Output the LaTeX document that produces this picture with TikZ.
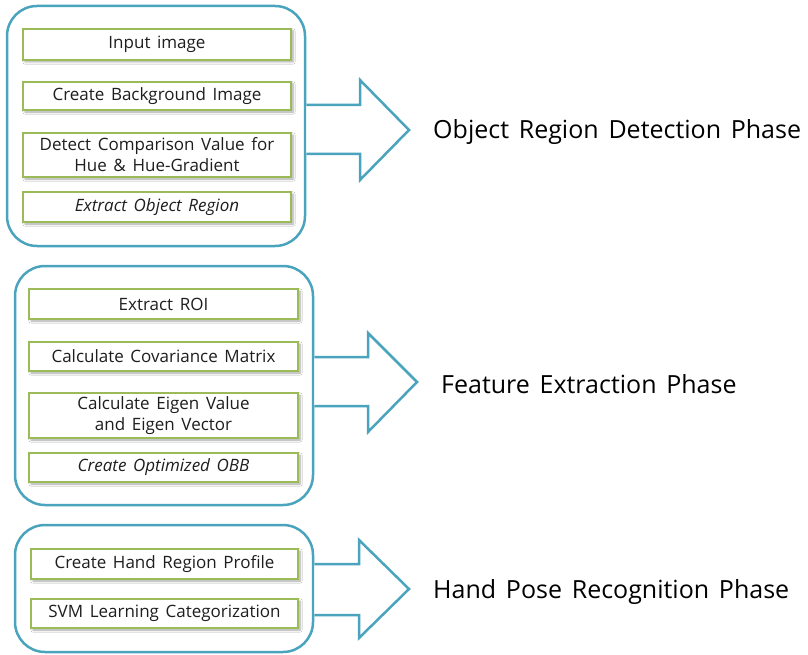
\documentclass[tikz,border=0pt]{standalone}
\usepackage{fontspec}
\setmainfont{Open Sans}[WordSpace=1.5]
\usetikzlibrary{shadows.blur}
\definecolor{frameblue}{RGB}{75,164,189}
\definecolor{stepgreen}{RGB}{155,187,89}
\definecolor{inktext}{RGB}{30,30,30}
\tikzset{
  phasebox/.style={draw=frameblue, line width=2.5pt, rounded corners=30pt, fill=white},
  stepbox/.style={draw=stepgreen, line width=2.8pt, fill=white, text=inktext,
    font=\fontsize{17}{21}\selectfont, align=center, inner sep=0pt,
    blur shadow={shadow xshift=2pt, shadow yshift=-2pt, shadow blur steps=6, shadow opacity=35}},
  phaselabel/.style={anchor=west, text=black, font=\fontsize{25}{29}\selectfont, inner sep=0pt},
  fatarrow/.style={draw=frameblue, line width=2.5pt, line join=miter, fill=white}
}
\begin{document}
\begin{tikzpicture}[x=1pt, y=-1pt]
\useasboundingbox (0,0) rectangle (808,655);

% ---- Phase 1: object region detection ----
\node[phasebox, minimum width=298pt, minimum height=240pt] (p1) at (156,126) {};
\node[stepbox, minimum width=268pt, minimum height=31pt] (s11) at (157,44.5) {Input image};
\node[stepbox, minimum width=268pt, minimum height=28pt] (s12) at (157,96) {Create Background Image};
\node[stepbox, minimum width=268pt, minimum height=44pt] (s13) at (157,155) {Detect Comparison Value for\\Hue \& Hue-Gradient};
\node[stepbox, minimum width=268pt, minimum height=30pt] (s14) at (157,207) {\itshape Extract Object Region};
\draw[fatarrow] (p1.east |- 0,105) -- (360,105) -- (360,80) -- (409,130) coordinate (t1)
  -- (360,180) -- (360,154) -- (p1.east |- 0,154);
\node[phaselabel] (l1) at (433,132) {Object Region Detection Phase};

% ---- Phase 2: feature extraction ----
\node[phasebox, minimum width=298pt, minimum height=239pt] (p2) at (164,385.5) {};
\node[stepbox, minimum width=269pt, minimum height=30pt] (s21) at (163.5,304) {Extract ROI};
\node[stepbox, minimum width=269pt, minimum height=29pt] (s22) at (163.5,356.5) {Calculate Covariance Matrix};
\node[stepbox, minimum width=269pt, minimum height=45pt] (s23) at (163.5,415.5) {Calculate Eigen Value\\and Eigen Vector};
\node[stepbox, minimum width=269pt, minimum height=29pt] (s24) at (163.5,467.5) {\itshape Create Optimized OBB};
\draw[fatarrow] (p2.east |- 0,357) -- (368,357) -- (368,333) -- (417,382) coordinate (t2)
  -- (368,432) -- (368,406) -- (p2.east |- 0,406);
\node[phaselabel] (l2) at (441,384) {Feature Extraction Phase};

% ---- Phase 3: hand pose recognition ----
\node[phasebox, minimum width=298pt, minimum height=127pt] (p3) at (164,588.5) {};
\node[stepbox, minimum width=267pt, minimum height=30pt] (s31) at (164.5,564) {Create Hand Region Profile};
\node[stepbox, minimum width=267pt, minimum height=29pt] (s32) at (164.5,613.5) {SVM Learning Categorization};
\draw[fatarrow] (p3.east |- 0,564) -- (359,564) -- (359,540) -- (409,589) coordinate (t3)
  -- (359,638) -- (359,615) -- (p3.east |- 0,615);
\node[phaselabel] (l3) at (433,592) {Hand Pose Recognition Phase};
\end{tikzpicture}
\end{document}
